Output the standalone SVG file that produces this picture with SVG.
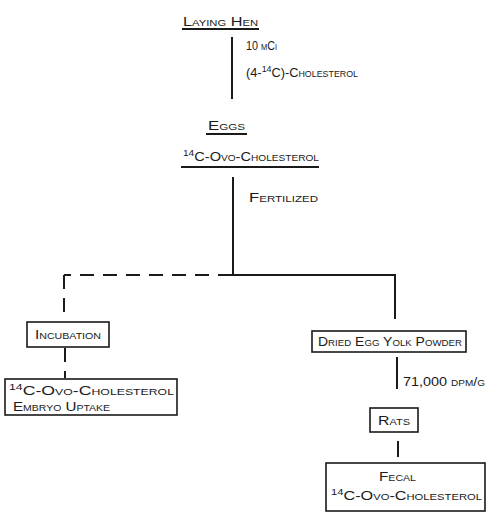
<svg xmlns="http://www.w3.org/2000/svg" width="486" height="516" viewBox="0 0 486 516">
<style>
text{font-family:"Liberation Sans",Arial,sans-serif;font-size:13px;font-variant:small-caps;fill:#1a1a1a}
.ln{stroke:#1a1a1a;stroke-width:2;fill:none}
.dash{stroke:#1a1a1a;stroke-width:2;fill:none;stroke-dasharray:14,9}
.box{stroke:#1a1a1a;stroke-width:1.6;fill:#fff}
.sup{font-size:9px}
</style>
<rect width="486" height="516" fill="#fff"/>
<g id="connectors">
<line class="ln" x1="232" y1="37" x2="232" y2="99"/>
<line class="ln" x1="233" y1="177" x2="233" y2="275"/>
<line class="dash" x1="232" y1="275" x2="64" y2="275"/>
<line class="ln" x1="232" y1="275" x2="396" y2="275"/>
<line class="dash" x1="64" y1="275" x2="64" y2="320"/>
<line class="ln" x1="395" y1="275" x2="395" y2="319"/>
<line class="dash" x1="65" y1="348" x2="65" y2="378"/>
<line class="ln" x1="397" y1="357" x2="397" y2="389"/>
<line class="ln" x1="398" y1="441" x2="398" y2="457"/>
<text x="246" y="50" textLength="31" lengthAdjust="spacingAndGlyphs">10 mCi</text>
<text x="246" y="77" textLength="112" lengthAdjust="spacingAndGlyphs">(4-<tspan class="sup" dy="-5">14</tspan><tspan dy="5">C)-Cholesterol</tspan></text>
<text x="249" y="202" textLength="69" lengthAdjust="spacingAndGlyphs">Fertilized</text>
<text x="403" y="386" textLength="82" lengthAdjust="spacingAndGlyphs">71,000 dpm/g</text>
</g>
<g id="laying-hen">
<text x="183" y="26" textLength="75" lengthAdjust="spacingAndGlyphs">Laying Hen</text>
<line class="ln" x1="182" y1="29" x2="259" y2="29" stroke-width="1.6"/>
</g>
<g id="eggs">
<text x="208" y="130" textLength="37" lengthAdjust="spacingAndGlyphs">Eggs</text>
<line class="ln" x1="206" y1="134" x2="247" y2="134" stroke-width="1.6"/>
<text x="183" y="161" textLength="136" lengthAdjust="spacingAndGlyphs"><tspan class="sup" dy="-5">14</tspan><tspan dy="5">C-Ovo-Cholesterol</tspan></text>
<line class="ln" x1="181" y1="167" x2="319" y2="167" stroke-width="1.6"/>
</g>
<g id="incubation">
<rect class="box" x="27" y="322" width="82" height="25"/>
<text x="35" y="339" textLength="66" lengthAdjust="spacingAndGlyphs">Incubation</text>
</g>
<g id="embryo-uptake">
<rect class="box" x="5" y="379" width="172" height="36"/>
<text x="9" y="395" textLength="165" lengthAdjust="spacingAndGlyphs"><tspan class="sup" dy="-5">14</tspan><tspan dy="5">C-Ovo-Cholesterol</tspan></text>
<text x="13" y="411" textLength="97" lengthAdjust="spacingAndGlyphs">Embryo Uptake</text>
</g>
<g id="dried-egg-yolk-powder">
<rect class="box" x="312" y="331" width="154" height="21"/>
<text x="318" y="346" textLength="144" lengthAdjust="spacingAndGlyphs">Dried Egg Yolk Powder</text>
</g>
<g id="rats">
<rect class="box" x="370" y="408" width="48" height="24"/>
<text x="378" y="425" textLength="32" lengthAdjust="spacingAndGlyphs">Rats</text>
</g>
<g id="fecal">
<rect class="box" x="326" y="463" width="159" height="48"/>
<text x="379" y="481" textLength="37" lengthAdjust="spacingAndGlyphs">Fecal</text>
<text x="331" y="500" textLength="151" lengthAdjust="spacingAndGlyphs"><tspan class="sup" dy="-5">14</tspan><tspan dy="5">C-Ovo-Cholesterol</tspan></text>
</g>
</svg>
